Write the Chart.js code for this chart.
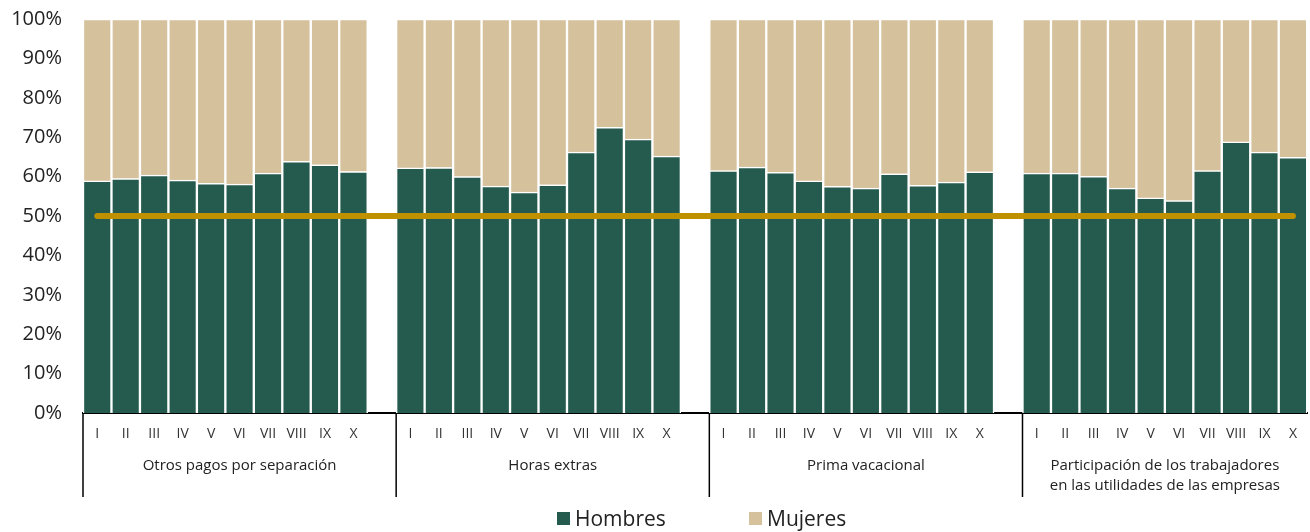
<!DOCTYPE html>
<html>
<head>
<meta charset="utf-8">
<script src="https://cdn.jsdelivr.net/npm/chart.js@4"></script>
<style>
  body { margin: 0; background: #fff; font-family: "Open Sans", sans-serif; }
  #wrap { position: relative; width: 1310px; height: 532px; }
  #legend { position: absolute; left: 0; top: 505px; width: 1310px; height: 27px; font-size: 21px; color: #222; }
  #legend span.item { position: absolute; top: 0; line-height: 27px; }
  #legend i { display: inline-block; width: 13px; height: 13px; margin-right: 5px; vertical-align: 1px; }
</style>
</head>
<body>
<div id="wrap">
  <canvas id="mycanvas" width="1310" height="532"></canvas>
  <div id="legend">
    <span class="item" style="left:557px"><i style="background:#245b4e"></i>Hombres</span>
    <span class="item" style="left:749px"><i style="background:#d5c19c"></i>Mujeres</span>
  </div>
</div>
<script>
// categories
var grupos = ["Otros pagos por separación", "Horas extras", "Prima vacacional",
  ["Participación de los trabajadores", "en las utilidades de las empresas"]];
var numerales = ["I", "II", "III", "IV", "V", "VI", "VII", "VIII", "IX", "X"];

// Hombres share (%) by group
var hombresOtros = [58.9, 59.5, 60.4, 59.1, 58.3, 58.1, 60.9, 63.9, 63.0, 61.3];
var hombresHoras = [62.2, 62.3, 60.0, 57.6, 56.1, 57.9, 66.2, 72.5, 69.5, 65.2];
var hombresPrima = [61.5, 62.4, 61.1, 58.9, 57.5, 57.1, 60.7, 57.8, 58.6, 61.2];
var hombresPtu = [60.9, 60.9, 60.1, 57.1, 54.6, 53.9, 61.5, 68.8, 66.2, 64.9];

// Mujeres share (%) by group
var mujeresOtros = [41.1, 40.5, 39.6, 40.9, 41.7, 41.9, 39.1, 36.1, 37.0, 38.7];
var mujeresHoras = [37.8, 37.7, 40.0, 42.4, 43.9, 42.1, 33.8, 27.5, 30.5, 34.8];
var mujeresPrima = [38.5, 37.6, 38.9, 41.1, 42.5, 42.9, 39.3, 42.2, 41.4, 38.8];
var mujeresPtu = [39.1, 39.1, 39.9, 42.9, 45.4, 46.1, 38.5, 31.2, 33.8, 35.1];

var paridad = 50; // reference line

var hombresGrupos = [hombresOtros, hombresHoras, hombresPrima, hombresPtu];
var mujeresGrupos = [mujeresOtros, mujeresHoras, mujeresPrima, mujeresPtu];

// flatten with an empty slot between groups
var labels = [], hombres = [], mujeres = [], linea = [], grupoInicio = [], grupoFin = [];
for (var g = 0; g < grupos.length; g++) {
  grupoInicio.push(labels.length);
  for (var i = 0; i < numerales.length; i++) {
    labels.push(numerales[i]);
    hombres.push(hombresGrupos[g][i]);
    mujeres.push(mujeresGrupos[g][i]);
    linea.push(paridad);
  }
  if (g < grupos.length - 1) {// gap slot
    labels.push("");
    hombres.push(null);
    mujeres.push(null);
    linea.push(paridad);
  }
  grupoFin.push(labels.length - 1);
}

var FONT = '"Open Sans", sans-serif';

// group names and separators under the numerals
var groupLabels = {
  id: "groupLabels",
  afterDraw: function (chart) {
    var ctx = chart.ctx;
    var x = chart.scales.x;
    var half = (x.getPixelForValue(1) - x.getPixelForValue(0)) / 2;
    var top = chart.chartArea.bottom;
    ctx.save();
    ctx.strokeStyle = "#000";
    ctx.lineWidth = 1.5;
    ctx.fillStyle = "#222";
    ctx.font = "15px " + FONT;
    ctx.textAlign = "center";
    ctx.textBaseline = "middle";
    for (var g = 0; g < grupos.length; g++) {
      var left = x.getPixelForValue(grupoInicio[g]) - half;
      var right = x.getPixelForValue(grupoFin[g]) + half;
      ctx.beginPath();
      ctx.moveTo(left, top);
      ctx.lineTo(left, top + 84);
      ctx.stroke();
      var lines = [].concat(grupos[g]);
      for (var k = 0; k < lines.length; k++) {
        ctx.fillText(lines[k], (left + right) / 2, top + 53 + k * 20);
      }
    }
    ctx.restore();
  }
};

var ctx = document.getElementById("mycanvas");
var chart = new Chart(ctx, {
  data: {
    labels: labels,
    datasets: [
      {
        type: "line",
        label: "50%",
        data: linea,
        borderColor: "#bf9000",
        borderWidth: 6,
        borderCapStyle: "round",
        pointRadius: 0,
        stack: "ref",
        order: 0
      },
      {
        type: "bar",
        label: "Hombres",
        data: hombres,
        backgroundColor: "#245b4e",
        borderColor: "#ffffff",
        borderWidth: 1.5,
        barPercentage: 1,
        categoryPercentage: 1,
        order: 1
      },
      {
        type: "bar",
        label: "Mujeres",
        data: mujeres,
        backgroundColor: "#d5c19c",
        borderColor: "#ffffff",
        borderWidth: 1.5,
        barPercentage: 1,
        categoryPercentage: 1,
        order: 1
      }
    ]
  },
  options: {
    responsive: false,
    animation: false,
    layout: { padding: { top: 0, right: 0, bottom: 32, left: 0 } },
    plugins: {
      legend: { display: false },
      tooltip: { enabled: false }
    },
    scales: {
      x: {
        stacked: true,
        grid: { display: false, drawTicks: false },
        border: { display: true, color: "#000", width: 2 },
        ticks: {
          autoSkip: false,
          maxRotation: 0,
          padding: 13,
          color: "#333",
          font: { family: FONT, size: 14 }
        },
        afterFit: function (scale) { scale.height = 87; }
      },
      y: {
        stacked: true,
        min: 0,
        max: 100,
        grid: { display: false, drawTicks: true, tickLength: 14 },
        border: { display: false },
        ticks: {
          stepSize: 10,
          padding: 7,
          color: "#222",
          font: { family: FONT, size: 20 },
          callback: function (v) { return v + "%"; }
        },
        afterFit: function (scale) { scale.width = 83; }
      }
    }
  },
  plugins: [groupLabels]
});
</script>
</body>
</html>
